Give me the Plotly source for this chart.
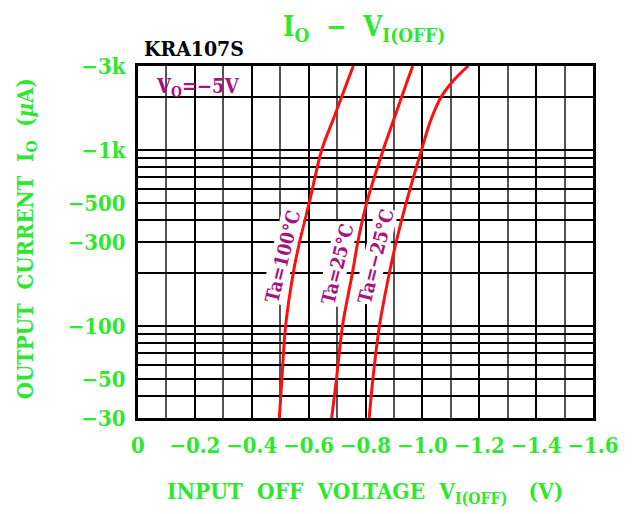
import plotly.graph_objects as go
import numpy as np

# ---- data (magnitudes; axis labels show the negative sign) ----
current_uA = [30, 50, 100, 200, 300, 500, 1000, 1500, 2000, 2466, 3000]
v_ta100 = [0.497, 0.506, 0.519, 0.546, 0.568, 0.602, 0.646, 0.687, 0.716, 0.737, 0.757]
v_ta25 = [0.681, 0.698, 0.719, 0.754, 0.773, 0.804, 0.862, 0.900, 0.927, 0.947, 0.966]
v_tam25 = [0.813, 0.826, 0.849, 0.884, 0.908, 0.943, 0.997, 1.031, 1.066, 1.108, 1.161]

x_tickvals = [0, 0.2, 0.4, 0.6, 0.8, 1.0, 1.2, 1.4, 1.6]
x_ticktext = ["0", "−0.2", "−0.4", "−0.6", "−0.8", "−1.0", "−1.2", "−1.4", "−1.6"]
x_minor = [0.1, 0.3, 0.5, 0.7, 0.9, 1.1, 1.3, 1.5]

y_tickvals = [30, 50, 100, 300, 500, 1000, 3000]
y_ticktext = ["−30", "−50", "−100", "−300", "−500", "−1k", "−3k"]
y_minor = [40, 60, 70, 80, 90, 200, 400, 600, 700, 800, 900, 2000]

labels = ["Ta=100°C", "Ta=25°C", "Ta=−25°C"]
label_v = [0.508, 0.700, 0.835]
label_i = [250, 225, 250]

GREEN = "#2ee82e"
PURPLE = "#a8127f"
FONT = "DejaVu Serif Condensed, DejaVu Serif"

fig = go.Figure()
for v in [v_ta100, v_ta25, v_tam25]:
    fig.add_trace(go.Scatter(x=v, y=current_uA, mode="lines",
                             line=dict(color="#ff1010", width=3, shape="spline", smoothing=1.0),
                             showlegend=False, hoverinfo="skip"))

# white box behind V0 label (covers grid)
fig.add_shape(type="rect", xref="x", yref="paper", x0=0.005, x1=0.49, y0=0.916, y1=0.995,
              fillcolor="white", line=dict(width=0), layer="between")

for t, xv, iv in zip(labels, label_v, label_i):
    fig.add_annotation(x=xv, y=np.log10(iv), text=t, showarrow=False, textangle=-76,
                       xanchor="center", yanchor="middle",
                       font=dict(family=FONT, size=19, color=PURPLE, weight="bold"),
                       bgcolor="white", borderpad=0)

fig.add_annotation(xref="paper", yref="paper", x=0.132, y=0.94, xanchor="center", yanchor="middle",
                   text="V<sub>O</sub>=−5V", showarrow=False,
                   font=dict(family=FONT, size=20, color=PURPLE, weight="bold"))
fig.add_annotation(xref="paper", yref="paper", x=0.008, y=1.051, xanchor="left", yanchor="middle",
                   text="KRA107S", showarrow=False,
                   font=dict(family=FONT, size=21, color="black", weight="bold"))
fig.add_annotation(xref="paper", yref="paper", x=0.497, y=1.107, xanchor="center", yanchor="middle",
                   text="I<sub>O</sub>\u00a0\u00a0−\u00a0\u00a0V<sub>I(OFF)</sub>", showarrow=False,
                   font=dict(family=FONT, size=27, color=GREEN, weight="bold"))
fig.add_annotation(xref="paper", yref="paper", x=0.499, y=-0.213, xanchor="center", yanchor="middle",
                   text="INPUT\u00a0\u00a0OFF\u00a0\u00a0VOLTAGE\u00a0\u00a0V<sub>I(OFF)</sub>\u00a0\u00a0\u00a0(V)",
                   showarrow=False,
                   font=dict(family=FONT, size=22.5, color=GREEN, weight="bold"))
fig.add_annotation(xref="paper", yref="paper", x=-0.245, y=0.509, textangle=-90,
                   xanchor="center", yanchor="middle",
                   text="OUTPUT\u00a0\u00a0CURRENT\u00a0\u00a0I<sub>O</sub>\u00a0\u00a0(<i>μ</i>A)",
                   showarrow=False,
                   font=dict(family=FONT, size=22, color=GREEN, weight="bold"))

fig.update_xaxes(range=[0, 1.6], tickmode="array", tickvals=x_tickvals, ticktext=x_ticktext,
                 showgrid=True, gridcolor="black", gridwidth=1.5,
                 minor=dict(tickmode="array", tickvals=x_minor, showgrid=True,
                            gridcolor="#555555", gridwidth=1.5),
                 showline=True, linecolor="black", linewidth=3, mirror=True,
                 ticks="", ticklabelstandoff=6, zeroline=False,
                 tickfont=dict(family=FONT, size=22, color=GREEN, weight="bold"))
fig.update_yaxes(type="log", range=[np.log10(30), np.log10(3000)], tickmode="array",
                 tickvals=y_tickvals, ticktext=y_ticktext,
                 showgrid=True, gridcolor="black", gridwidth=1.5,
                 minor=dict(tickmode="array", tickvals=y_minor, showgrid=True,
                            gridcolor="black", gridwidth=1.5),
                 showline=True, linecolor="black", linewidth=3, mirror=True,
                 ticks="", ticklabelstandoff=5, zeroline=False,
                 tickfont=dict(family=FONT, size=22, color=GREEN, weight="bold"))

fig.update_layout(width=627, height=506, margin=dict(l=130, r=42, t=58, b=96),
                  plot_bgcolor="white", paper_bgcolor="white", showlegend=False)

fig.write_html("out.html")
